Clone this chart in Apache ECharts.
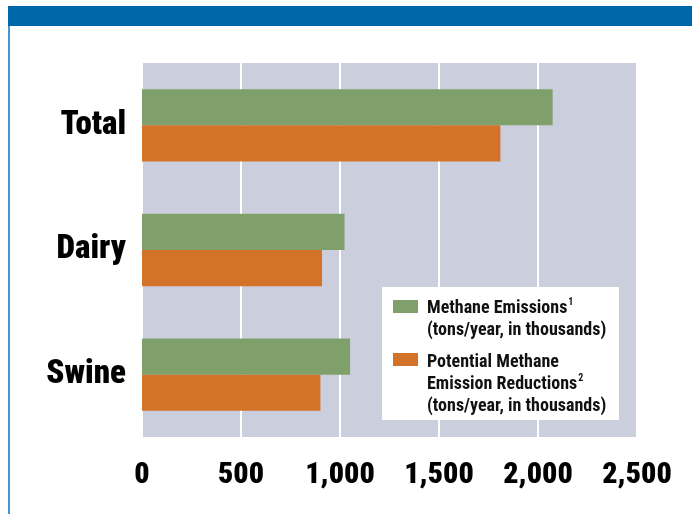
<!DOCTYPE html>
<html>
<head>
<meta charset="utf-8">
<script src="https://cdn.jsdelivr.net/npm/echarts@6/dist/echarts.min.js"></script>
<style>
  html, body { margin: 0; padding: 0; background: #ffffff; }
  #chart { width: 692px; height: 514px; }
</style>
</head>
<body>
<div id="chart"></div>
<script>
// Livestock categories, top to bottom
const categories = ['Total', 'Dairy', 'Swine'];
// Methane emissions (tons/year, in thousands)
const methaneEmissions = [2074, 1023, 1051];
// Potential methane emission reductions (tons/year, in thousands)
const potentialReductions = [1810, 909, 901];
// Value-axis ticks
const axisMin = 0;
const axisMax = 2500;
const axisStep = 500;

const GREEN = '#7fa06a';
const ORANGE = '#d37229';
const FONT = 'Roboto, "Open Sans", sans-serif';
// goes into the canvas font shorthand as font-stretch
const STRETCH = 'condensed';

const chart = echarts.init(document.getElementById('chart'), null, { renderer: 'canvas' });

const fmt = v => v.toString().replace(/\B(?=(\d{3})+(?!\d))/g, ',');

const legendRich = {
  b: { fontFamily: FONT, fontStyle: STRETCH, fontWeight: 'bold', fontSize: 18, lineHeight: 22, fill: '#111111' },
  s: { fontFamily: FONT, fontStyle: STRETCH, fontWeight: 'bold', fontSize: 10, lineHeight: 22, verticalAlign: 'top', padding: [0, 0, 8, 1], fill: '#111111' }
};

chart.setOption({
  animation: false,
  backgroundColor: '#ffffff',
  grid: {
    left: 142, right: 55, top: 63, bottom: 77,
    show: true, backgroundColor: '#cbcedd', borderWidth: 0,
    containLabel: false
  },
  xAxis: {
    type: 'value',
    min: axisMin, max: axisMax, interval: axisStep,
    axisLine: { show: false },
    axisTick: { show: false },
    splitLine: { show: true, lineStyle: { color: '#ffffff', width: 2 } },
    axisLabel: {
      margin: 23,
      color: '#000000',
      fontFamily: FONT,
      fontStyle: STRETCH,
      fontWeight: 900,
      fontSize: 30,
      formatter: v => fmt(v)
    }
  },
  yAxis: {
    type: 'category',
    inverse: true,
    data: categories,
    axisLine: { show: false },
    axisTick: { show: false },
    splitLine: { show: false },
    axisLabel: {
      margin: 16,
      color: '#000000',
      fontFamily: FONT,
      fontStyle: STRETCH,
      fontWeight: 900,
      fontSize: 33
    }
  },
  series: [
    {
      name: 'Methane Emissions',
      type: 'bar',
      data: methaneEmissions,
      itemStyle: { color: GREEN },
      barGap: '0%',
      barCategoryGap: '42%'
    },
    {
      name: 'Potential Methane Emission Reductions',
      type: 'bar',
      data: potentialReductions,
      itemStyle: { color: ORANGE },
      barGap: '0%',
      barCategoryGap: '42%'
    }
  ],
  graphic: [
    // page frame: blue header band and thin left rule
    { type: 'rect', z: 100, shape: { x: 8, y: 6, width: 684, height: 20 }, style: { fill: '#0068aa' } },
    { type: 'rect', z: 100, shape: { x: 8, y: 26, width: 2, height: 488 }, style: { fill: '#4a94cc' } },
    // legend box
    { type: 'rect', z: 100, shape: { x: 382, y: 287, width: 237, height: 133 }, style: { fill: '#ffffff' } },
    { type: 'rect', z: 101, shape: { x: 393, y: 300, width: 25, height: 13 }, style: { fill: GREEN } },
    { type: 'rect', z: 101, shape: { x: 393, y: 353, width: 25, height: 13 }, style: { fill: ORANGE } },
    {
      type: 'text', z: 101, x: 427, y: 297.5,
      style: { text: '{b|Methane Emissions}{s|1}\n{b|(tons/year, in thousands)}', rich: legendRich }
    },
    {
      type: 'text', z: 101, x: 427, y: 351,
      style: { text: '{b|Potential Methane}\n{b|Emission Reductions}{s|2}\n{b|(tons/year, in thousands)}', rich: legendRich }
    }
  ]
});
</script>
</body>
</html>
